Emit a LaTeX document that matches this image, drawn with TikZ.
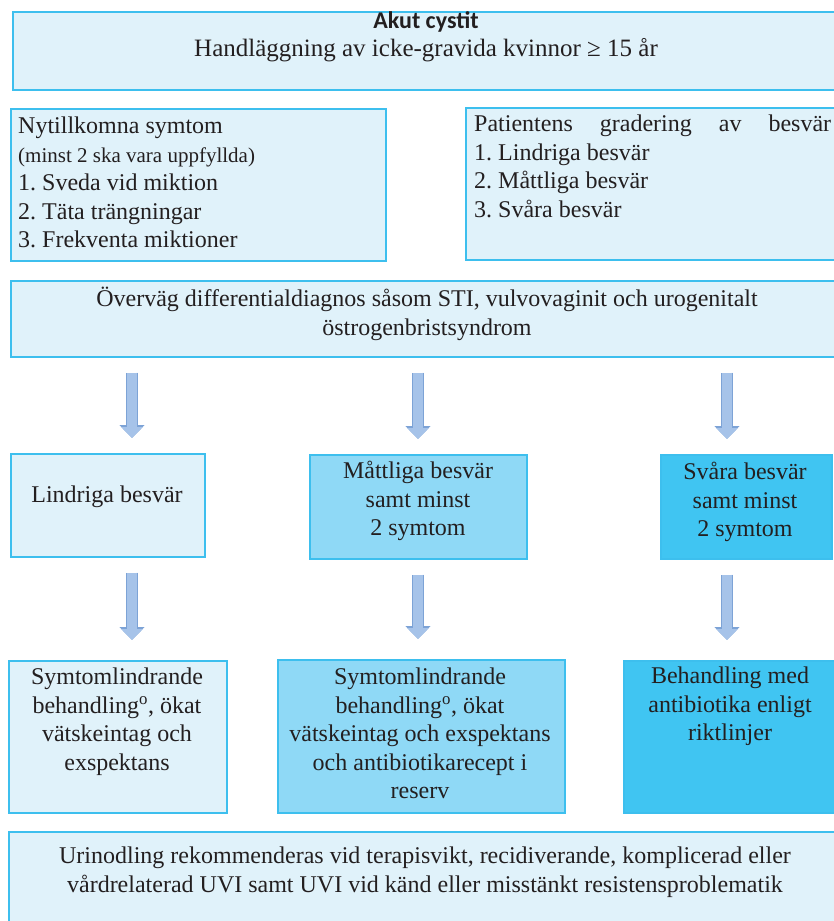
\documentclass[tikz,border=0pt]{standalone}
\usepackage{fontspec}
\setmainfont{Liberation Serif}
\newfontfamily\titlefont{Carlito}
\usetikzlibrary{positioning,calc,arrows.meta}
\definecolor{boxline}{HTML}{3DBFEE}
\definecolor{lightfill}{HTML}{E0F2FA}
\definecolor{midfill}{HTML}{8FD9F6}
\definecolor{darkfill}{HTML}{40C5F2}
\definecolor{arrowfill}{HTML}{A6C3E9}
\definecolor{arrowline}{HTML}{7DA3D6}
\definecolor{ink}{HTML}{231F20}

\begin{document}
\begin{tikzpicture}[x=1pt,y=-1pt]
  \tikzstyle{box} = [draw=boxline,line width=1.6pt,rectangle,anchor=north west,inner sep=0pt]
  \tikzstyle{light} = [box,fill=lightfill]
  \tikzstyle{mid} = [box,fill=midfill]
  \tikzstyle{dark} = [box,fill=darkfill]
  \tikzstyle{txt} = [text=ink,inner sep=0pt,anchor=north,align=center,font=\rmfamily\frenchspacing\fontsize{24}{28.5}\selectfont,execute at begin node=\strut]
  \tikzstyle{flow} = [arrowfill,line width=10pt,-{Triangle[width=21pt,length=11pt]},
    preaction={draw=arrowline,line width=12.5pt,-{Triangle[width=24.5pt,length=13pt]}}]
  \path[use as bounding box,clip] (0,0) rectangle (834,921);

  \foreach \n/\s/\x/\y/\w/\h in {top/light/12/11/828/78, symptoms/light/10/108/375/152,
      grading/light/465/107/380/152, diffdiag/light/10/280/834/76,
      mild/light/10/453/194/103, moderate/mid/309/454/217/104, severe/dark/660/454/171/104,
      relief/light/8/660/218/152, reserve/mid/277/659/287/153, antibiotics/dark/623/660/215/152,
      culture/light/8/831/860/109}{
    \node[\s,minimum width=\w pt,minimum height=\h pt] (\n) at (\x,\y) {};
  }

  \node[txt] (toptxt) at (426,11) {{\titlefont\bfseries Akut cystit}\\{\fontsize{25}{28.5}\selectfont Handläggning av icke-gravida kvinnor ≥ 15 år}};
  \node[txt,anchor=north west,align=left] (symptxt) at (18,117) {Nytillkomna symtom\\
    {\fontsize{21}{25}\selectfont (minst 2 ska vara uppfyllda)}\\1. Sveda vid miktion\\
    2. Täta trängningar\\3. Frekventa miktioner};
  \node[txt,anchor=north west,align=left] (gradtxt) at (474,115) {\makebox[357pt][s]{Patientens gradering av besvär}\\
    1. Lindriga besvär\\2. Måttliga besvär\\3. Svåra besvär};
  \node[txt] (difftxt) at (427,287) {Överväg differentialdiagnos såsom STI, vulvovaginit och urogenitalt\\östrogenbristsyndrom};
  \node[txt] (mildtxt) at (107,482) {Lindriga besvär};
  \node[txt] (modtxt) at (418,461) {Måttliga besvär\\samt minst\\2 symtom};
  \node[txt] (sevtxt) at (745,462) {Svåra besvär\\samt minst\\2 symtom};
  \node[txt] (relieftxt) at (117,668) {Symtomlindrande\\behandling\textsuperscript{o}, ökat\\vätskeintag och\\exspektans};
  \node[txt] (reservetxt) at (420,668) {Symtomlindrande\\behandling\textsuperscript{o}, ökat\\vätskeintag och exspektans\\och antibiotikarecept i\\reserv};
  \node[txt] (antitxt) at (730,667) {Behandling med\\antibiotika enligt\\riktlinjer};
  \node[txt] (culttxt) at (425,847) {Urinodling rekommenderas vid terapisvikt, recidiverande, komplicerad eller\\vårdrelaterad UVI samt UVI vid känd eller misstänkt resistensproblematik};

  \coordinate (c1) at (132,0);
  \coordinate (c2) at (418,0);
  \coordinate (c3) at (727,0);
  \foreach \c/\a/\b in {c1/mild/relief,c2/moderate/reserve,c3/severe/antibiotics}{
    \draw[flow] ($(diffdiag.south -| \c)+(0,15)$) -- ($(\a.north -| \c)+(0,-15)$);
    \draw[flow] ($(\a.south -| \c)+(0,15)$) -- ($(\b.north -| \c)+(0,-20)$);
  }
\end{tikzpicture}
\end{document}
